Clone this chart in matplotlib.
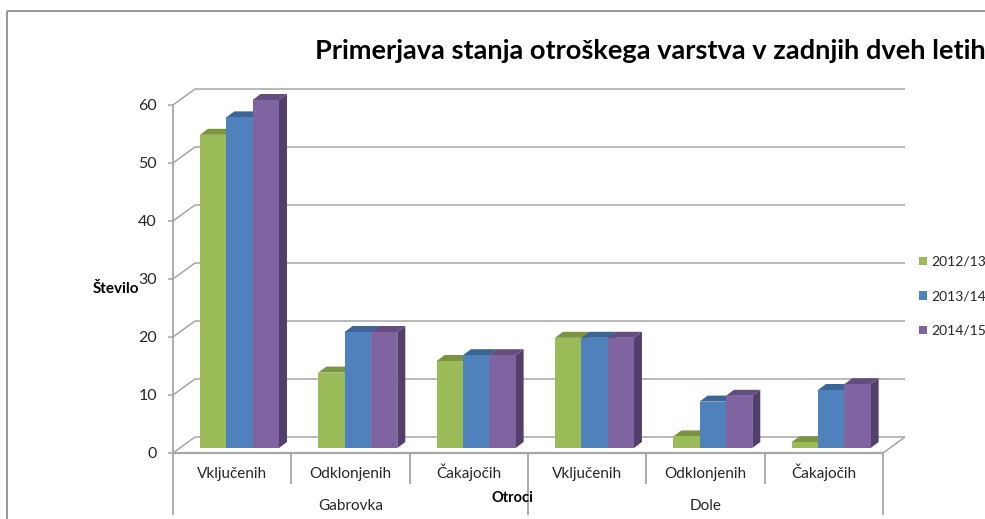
import matplotlib
matplotlib.use("Agg")
import matplotlib.pyplot as plt
import numpy as np

plt.rcParams['font.family'] = ['Lato', 'DejaVu Sans']

categories = ["Vključenih", "Odklonjenih", "Čakajočih", "Vključenih", "Odklonjenih", "Čakajočih"]
groups = ["Gabrovka", "Dole"]
series_names = ["2012/13", "2013/14", "2014/15"]
v_2012 = [54, 13, 15, 19, 2, 1]
v_2013 = [57, 20, 16, 19, 8, 10]
v_2014 = [60, 20, 16, 19, 9, 11]
y_ticks = [0, 10, 20, 30, 40, 50, 60]

front = ["#9BBB59", "#4F81BD", "#8064A2"]
top = ["#7A9440", "#3A6594", "#644E80"]
side = ["#5F7530", "#2F5580", "#533F6C"]
grid = "#A6A6A6"
ink = "#262626"

W, H = 985, 519
fig = plt.figure(figsize=(W / 100, H / 100), dpi=100, facecolor="white")
ax = fig.add_axes([0, 0, 1, 1])
ax.axis("off")

# Pixel scale of the chart's value and category axes
X0, XU = 173.0, 118.33
Y0, YU = 453.0, 5.8
ax.set_xlim(-X0 / XU, (W - X0) / XU)
ax.set_ylim((Y0 - H) / YU, Y0 / YU)
ax.margins(0)
ax.autoscale(False)

def dx(p): return p / XU
def dy(p): return p / YU

WX, WY = dx(22), dy(16)   # wall depth
BX, BY = dx(8), dy(6)     # bar depth
base = dy(5)              # bar floor inset
n = len(categories)
lw = 1.1

# chart frame
frame = dict(color="#969696", lw=1.4, zorder=1, solid_capstyle="butt")
ax.plot([dx(7 - X0), dx(7 - X0)], [dy(Y0 - H), dy(Y0 - 11)], **frame)
ax.plot([dx(7 - X0), dx(W - X0)], [dy(Y0 - 11), dy(Y0 - 11)], **frame)

# walls and gridlines
line = dict(color=grid, lw=lw, zorder=2, solid_capstyle="butt")
for t in y_ticks:
    ax.plot([dx(-5), 0, WX, n + WX], [t, t, t + WY, t + WY], **line)
    ax.text(dx(-16), t - dy(1), str(t), ha="right", va="center", fontsize=11.5, color=ink, zorder=6)
ax.plot([n, n + WX], [0, WY], **line)
ax.plot([0, 0], [dy(Y0 - 515), 60], color=grid, lw=1.3, zorder=2, solid_capstyle="butt")
ax.plot([0, n], [0, 0], color=grid, lw=1.6, zorder=2, solid_capstyle="butt")
for i in range(1, n + 1):
    bottom = dy(Y0 - 515) if i in (3, 6) else dy(Y0 - 484)
    ax.plot([i, i], [bottom, 0], color=grid, lw=1.3, zorder=2, solid_capstyle="butt")

# bars
series = [v_2012, v_2013, v_2014]
bw = 0.2225
start = 0.228
for i in range(n):
    for j, vals in enumerate(series):
        v = vals[i]
        x = i + start + bw * j
        z = 3 + j * 0.1
        ax.fill([x + bw, x + bw + BX, x + bw + BX, x + bw],
                [base, base + BY, base + v + BY, base + v],
                color=side[j], lw=0, zorder=z)
        ax.fill([x, x + BX, x + bw + BX, x + bw],
                [base + v, base + v + BY, base + v + BY, base + v],
                color=top[j], lw=0, zorder=z)
for j, vals in enumerate(series):
    ax.bar(np.arange(n) + start + bw * (j + 0.5), vals, width=bw, bottom=base,
           color=front[j], linewidth=0,
           zorder=3 + j * 0.1 + 0.05, label=series_names[j])

# labels
for i, c in enumerate(categories):
    ax.text(i + 0.5, dy(Y0 - 478), c, ha="center", va="baseline", fontsize=11, color=ink, zorder=6)
for k, g in enumerate(groups):
    ax.text(1.5 + 3 * k, dy(Y0 - 510), g, ha="center", va="baseline", fontsize=11, color=ink, zorder=6)

ax.text(dx(315 - X0), dy(Y0 - 51), "Primerjava stanja otroškega varstva v zadnjih dveh letih",
        ha="left", va="center", fontsize=19.6, fontweight="bold", color="black", zorder=6)
ax.text(dx(93 - X0), dy(Y0 - 289), "Število", ha="left", va="center", fontsize=11,
        fontweight="bold", color="black", zorder=7)
ax.text(dx(492 - X0), dy(Y0 - 498), "Otroci", ha="left", va="center", fontsize=10.5,
        fontweight="bold", color="black", zorder=7)

ax.legend(loc="upper left", bbox_to_anchor=(912 / W, 1 - 249 / H), bbox_transform=fig.transFigure,
          frameon=False, fontsize=10, handlelength=0.55, handleheight=0.55, handletextpad=0.35,
          labelspacing=1.62, borderpad=0.5, borderaxespad=0, labelcolor=ink)

fig.savefig("out.png", dpi=100, facecolor="white")
